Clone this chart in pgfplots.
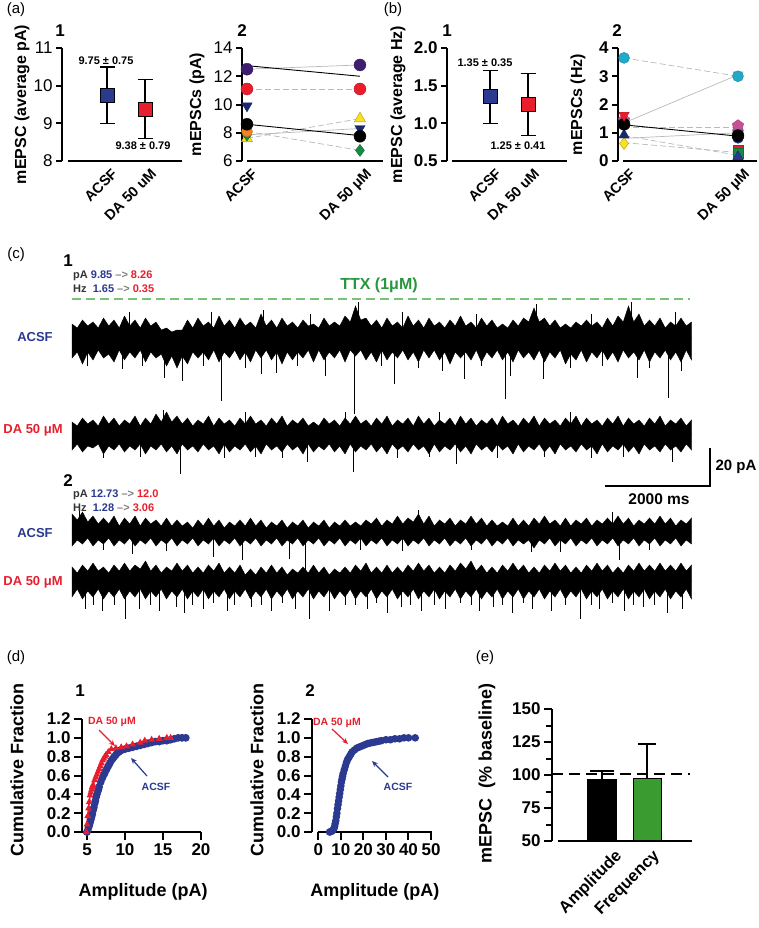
\documentclass[border=0pt]{standalone}
\usepackage{fontspec}
\setmainfont{Liberation Sans}
\usepackage{pgfplots}
\pgfplotsset{compat=1.18}
\usepackage{pgfplotstable}
\usetikzlibrary{arrows.meta}

\definecolor{acsf}{RGB}{43,57,144}
\definecolor{dared}{RGB}{232,30,45}
\definecolor{ttx}{RGB}{40,150,60}
\definecolor{ttxl}{RGB}{120,195,120}
\definecolor{purp}{RGB}{62,30,110}
\definecolor{orng}{RGB}{245,130,32}
\definecolor{ylw}{RGB}{250,225,30}
\definecolor{grn}{RGB}{20,140,70}
\definecolor{cyn}{RGB}{30,170,200}
\definecolor{pnk}{RGB}{200,80,150}
\definecolor{navy}{RGB}{25,40,110}
\definecolor{barg}{RGB}{58,155,48}

\newcommand{\fs}[1]{\fontsize{#1}{#1}\selectfont}

\pgfplotsset{
  every axis/.append style={/pgf/number format/assume math mode=true},
  panel/.style={scale only axis, clip=false, anchor=south west,
    axis x line=none, axis y line*=left,
    axis line style={line width=2.4pt,-},
    tick align=outside, major tick length=6pt,
    tick style={line width=2pt,black}, xtick=\empty,
    ylabel style={font=\bfseries\fs{16}, anchor=center},
    yticklabel style={font=\fs{17}}},
  trace/.style={scale only axis, hide axis, clip=false, anchor=west,
    width=619.5pt, height=80pt, xmin=0, xmax=11800, ymin=-20, ymax=20},
  env/.style={fill=black, draw=black, line width=0.4pt},
  gl/.style={gray!55, line width=0.7pt},
  gd/.style={gray!55, line width=0.7pt, dash pattern=on 6pt off 3pt},
}

% ---------------- trace envelopes (t in ms, current in pA) ----------------
\pgfplotstableread{
t up lo
0 7 -10
100 5 -7
200 9 -13
300 6 -7
400 8 -11
500 5 -6
600 10 -10
700 6 -8
800 9 -12
900 5 -6
1000 11 -11
1100 6 -7
1200 9 -10
1300 5 -6
1400 10 -12
1500 6 -7
1600 8 -10
1700 4 -8
1800 5 -14
1900 3 -9
2000 4 -15
2100 4 -9
2200 9 -13
2300 5 -7
2400 10 -10
2500 6 -7
2600 8 -11
2700 5 -6
2800 11 -12
2900 6 -7
3000 9 -10
3100 5 -6
3200 10 -11
3300 6 -7
3400 8 -12
3500 5 -6
3600 12 -10
3700 6 -6
3800 9 -11
3900 5 -7
4000 10 -13
4100 6 -7
4200 8 -11
4300 5 -7
4400 9 -10
4500 6 -6
4600 7 -12
4700 5 -6
4800 10 -11
4900 6 -7
5000 8 -10
5100 6 -6
5200 11 -12
5300 8 -6
5400 16 -9
5500 9 -6
5600 10 -11
5700 6 -7
5800 9 -12
5900 5 -6
6000 10 -11
6100 6 -7
6200 8 -10
6300 5 -6
6400 11 -11
6500 6 -7
6600 9 -12
6700 5 -6
6800 10 -10
6900 6 -6
7000 8 -11
7100 5 -7
7200 9 -13
7300 6 -7
7400 11 -10
7500 6 -7
7600 8 -11
7700 5 -6
7800 10 -12
7900 6 -7
8000 9 -10
8100 5 -6
8200 7 -11
8300 5 -7
8400 9 -12
8500 6 -6
8600 10 -10
8700 8 -7
8800 15 -11
8900 8 -6
9000 10 -12
9100 6 -7
9200 9 -10
9300 5 -6
9400 7 -13
9500 5 -8
9600 8 -11
9700 6 -6
9800 9 -12
9900 6 -7
10000 8 -10
10100 5 -6
10200 10 -11
10300 6 -7
10400 11 -12
10500 8 -6
10600 16 -10
10700 8 -7
10800 12 -11
10900 6 -6
11000 9 -12
11100 6 -7
11200 10 -10
11300 5 -6
11400 8 -11
11500 6 -7
11600 10 -12
11700 6 -6
11800 8 -11
}\trA
\pgfplotstableread{
t v
300 -14
970 -15.5
1100 13
1350 -14
1770 -20
2100 -21.5
2500 -14
2650 13
2840 -31.5
3300 -15
3600 -18
3650 14
3890 -17.5
4300 -14
4550 12
4820 -19
5390 -38
5450 18
5900 -14
6150 -23
6300 13
6600 -15
7050 -16.5
7470 -20.5
7700 12
7800 -14
8250 -30.5
8360 -19
8850 17
8990 -20.5
9500 -15
9900 12
10100 -14
10650 18
10780 -20
11000 -15
11370 -30
11500 13
11600 -16.5
}\spA
\pgfplotstableread{
t up lo
0 6 -8
100 4 -5
200 8 -9
300 5 -6
400 7 -7
500 4 -5
600 9 -10
700 5 -6
800 8 -8
900 4 -5
1000 7 -9
1100 5 -6
1200 9 -8
1300 4 -5
1400 8 -10
1500 5 -6
1600 10 -8
1700 6 -5
1800 11 -9
1900 6 -6
2000 9 -10
2100 5 -5
2200 8 -8
2300 4 -6
2400 7 -9
2500 5 -5
2600 9 -8
2700 4 -6
2800 8 -10
2900 5 -5
3000 7 -9
3100 4 -6
3200 8 -8
3300 5 -5
3400 9 -9
3500 5 -6
3600 7 -10
3700 4 -5
3800 8 -8
3900 5 -6
4000 9 -9
4100 4 -5
4200 7 -8
4300 5 -6
4400 8 -10
4500 4 -5
4600 6 -9
4700 4 -6
4800 8 -8
4900 5 -5
5000 7 -9
5100 4 -6
5200 8 -10
5300 5 -5
5400 9 -9
5500 5 -6
5600 7 -8
5700 4 -5
5800 8 -9
5900 5 -6
6000 9 -10
6100 4 -5
6200 7 -8
6300 5 -6
6400 8 -9
6500 4 -5
6600 9 -8
6700 5 -6
6800 8 -10
6900 4 -5
7000 7 -9
7100 5 -6
7200 8 -8
7300 4 -5
7400 9 -9
7500 5 -6
7600 8 -10
7700 4 -5
7800 7 -8
7900 5 -6
8000 8 -9
8100 4 -5
8200 9 -8
8300 5 -6
8400 7 -10
8500 4 -5
8600 8 -9
8700 5 -6
8800 9 -8
8900 4 -5
9000 8 -9
9100 5 -6
9200 7 -10
9300 4 -5
9400 8 -8
9500 5 -6
9600 9 -9
9700 4 -5
9800 8 -8
9900 5 -6
10000 7 -10
10100 4 -5
10200 8 -9
10300 5 -6
10400 9 -8
10500 4 -5
10600 8 -9
10700 5 -6
10800 7 -10
10900 4 -5
11000 8 -8
11100 5 -6
11200 9 -9
11300 4 -5
11400 7 -8
11500 5 -6
11600 8 -9
11700 4 -5
11800 7 -8
}\trB
\pgfplotstableread{
t v
600 -12
1300 -11.5
1750 12
2060 -20
2900 -12
3300 11
3500 -11.5
4000 -12
4480 -14
5200 11
5370 -19
6200 -12
6800 -11.5
7000 11
7330 -15
8100 -12
9000 -11.5
9500 11
9900 -12
10500 -11.5
11430 -14
}\spB
\pgfplotstableread{
t up lo
0 9 -7
100 6 -4
200 10 -6
300 5 -3
400 8 -7
500 4 -4
600 7 -6
700 4 -3
800 8 -7
900 3 -4
1000 7 -6
1100 4 -3
1200 8 -7
1300 3 -4
1400 7 -6
1500 4 -3
1600 6 -7
1700 3 -4
1800 7 -6
1900 3 -3
2000 6 -7
2100 3 -4
2200 5 -6
2300 2 -3
2400 6 -7
2500 3 -4
2600 7 -6
2700 3 -3
2800 6 -7
2900 2 -4
3000 5 -6
3100 3 -3
3200 6 -7
3300 3 -4
3400 7 -6
3500 3 -3
3600 6 -7
3700 2 -4
3800 5 -6
3900 3 -3
4000 6 -7
4100 2 -4
4200 5 -6
4300 3 -3
4400 6 -7
4500 2 -4
4600 5 -6
4700 3 -3
4800 6 -7
4900 2 -4
5000 5 -6
5100 3 -3
5200 6 -7
5300 3 -4
5400 5 -6
5500 3 -3
5600 6 -7
5700 4 -4
5800 7 -6
5900 3 -3
6000 6 -7
6100 4 -4
6200 8 -6
6300 4 -3
6400 7 -7
6500 5 -4
6600 9 -6
6700 4 -3
6800 8 -7
6900 3 -4
7000 6 -6
7100 4 -3
7200 7 -7
7300 3 -4
7400 6 -6
7500 4 -3
7600 8 -7
7700 4 -4
7800 7 -6
7900 3 -3
8000 6 -7
8100 3 -4
8200 5 -6
8300 3 -3
8400 7 -7
8500 3 -4
8600 6 -6
8700 3 -4
8800 7 -8
8900 4 -4
9000 8 -6
9100 4 -3
9200 6 -7
9300 3 -4
9400 7 -6
9500 3 -3
9600 6 -7
9700 4 -4
9800 7 -6
9900 3 -3
10000 6 -7
10100 4 -4
10200 7 -6
10300 4 -3
10400 8 -7
10500 4 -4
10600 7 -6
10700 3 -3
10800 6 -7
10900 4 -4
11000 7 -6
11100 4 -3
11200 8 -7
11300 4 -4
11400 7 -6
11500 3 -3
11600 6 -7
11700 4 -4
11800 7 -6
}\trC
\pgfplotstableread{
t v
150 12
600 -9
1160 -11
1800 -9.5
2690 -12.5
3240 -14
4150 -13.5
4440 -19
5500 -9
6300 -9.5
6600 11
7600 -9
8760 -10
9300 -10
10300 10
10420 -14
11000 -9
}\spC
\pgfplotstableread{
t up lo
0 7 -8
100 4 -4
200 8 -9
300 5 -5
400 9 -8
500 5 -4
600 7 -9
700 4 -5
800 8 -8
900 5 -4
1000 9 -9
1100 5 -5
1200 8 -8
1300 6 -4
1400 10 -9
1500 5 -5
1600 8 -8
1700 4 -4
1800 7 -9
1900 5 -5
2000 9 -8
2100 5 -4
2200 8 -9
2300 4 -5
2400 7 -8
2500 4 -4
2600 8 -9
2700 5 -5
2800 9 -8
2900 4 -4
3000 7 -9
3100 4 -5
3200 8 -8
3300 3 -4
3400 6 -9
3500 3 -5
3600 7 -8
3700 4 -4
3800 8 -9
3900 4 -5
4000 7 -8
4100 3 -4
4200 6 -9
4300 4 -5
4400 7 -8
4500 4 -4
4600 8 -9
4700 4 -5
4800 7 -8
4900 3 -4
5000 6 -9
5100 4 -5
5200 7 -8
5300 4 -4
5400 8 -9
5500 5 -5
5600 9 -8
5700 4 -4
5800 7 -9
5900 4 -5
6000 8 -8
6100 4 -4
6200 7 -9
6300 4 -5
6400 8 -8
6500 5 -4
6600 9 -9
6700 5 -5
6800 8 -8
6900 4 -4
7000 7 -9
7100 4 -5
7200 8 -8
7300 5 -4
7400 9 -9
7500 6 -5
7600 10 -8
7700 5 -4
7800 8 -9
7900 4 -5
8000 7 -8
8100 4 -4
8200 8 -9
8300 5 -5
8400 9 -8
8500 5 -4
8600 8 -9
8700 4 -5
8800 7 -8
8900 4 -4
9000 8 -9
9100 5 -5
9200 9 -8
9300 5 -4
9400 8 -9
9500 4 -5
9600 7 -8
9700 4 -4
9800 8 -9
9900 5 -5
10000 9 -8
10100 5 -4
10200 8 -9
10300 4 -5
10400 7 -8
10500 4 -4
10600 8 -9
10700 5 -5
10800 9 -8
10900 5 -4
11000 8 -9
11100 5 -5
11200 9 -8
11300 5 -4
11400 8 -9
11500 5 -5
11600 9 -8
11700 5 -4
11800 8 -9
}\trD
\pgfplotstableread{
t v
248 -14
400 -12
572 -15
800 -12
1010 -19
1295 -14
1500 -12
1676 -15
1981 -13
2134 -16
2300 -12
2496 -14
2700 -11
2953 -15
3100 -12
3410 -13
3600 -12
3791 -15
4000 -11
4248 -14
4515 -19
4896 -15
5200 -12
5400 -12
5619 -14
5800 -11
6000 -16
6267 -13
6450 -12
6648 -15
6900 -12
7105 -14
7400 -11
7600 -12
7753 -15
8019 -13
8200 -12
8382 -16
8600 -11
8763 -14
9125 -15
9400 -12
9677 -19
9900 -12
10039 -14
10300 -11
10515 -15
10700 -12
10877 -13
11100 -12
11334 -16
11620 -14
}\spD

\begin{document}
\begin{tikzpicture}
\useasboundingbox (0pt,0pt) rectangle (758pt,-928pt);

% ================= (a)1 =================
\begin{axis}[panel, at={(62pt,-161pt)}, width=120pt, height=113pt,
  xmin=-0.184, xmax=2.97, ymin=8, ymax=11, ytick={8,9,10,11},
  ylabel={mEPSC (average pA)},
  ylabel style={at={(axis description cs:-0.333,0.5)}}]
\addplot[only marks, mark=square*, mark size=7pt,
  mark options={fill=acsf, draw=black, line width=1pt},
  error bars/.cd, y dir=both, y explicit,
  error bar style={line width=1.4pt, black},
  error mark options={rotate=90, mark size=7.5pt, line width=1.4pt, black}]
  coordinates {(1,9.75) +- (0,0.75)};
\addplot[only marks, mark=square*, mark size=7pt,
  mark options={fill=dared, draw=black, line width=1pt},
  error bars/.cd, y dir=both, y explicit,
  error bar style={line width=1.4pt, black},
  error mark options={rotate=90, mark size=7.5pt, line width=1.4pt, black}]
  coordinates {(2,9.38) +- (0,0.79)};
\end{axis}

% ================= (a)2 =================
\begin{axis}[panel, at={(242pt,-161pt)}, width=141pt, height=113pt,
  xmin=0.956, xmax=2.204, ymin=6, ymax=14, ytick={6,8,10,12,14},
  ylabel={mEPSCs (pA)},
  ylabel style={at={(axis description cs:-0.319,0.5)}}]
\addplot[gl] coordinates {(1,12.5) (2,12.8)};
\addplot[gd] coordinates {(1,11.1) (2,11.1)};
\addplot[gd] coordinates {(1,7.6) (2,9.0)};
\addplot[gd] coordinates {(1,8.1) (2,6.75)};
\addplot[gl] coordinates {(1,7.85) (2,8.3)};
\addplot[black, line width=0.9pt] coordinates {(1,12.75) (2,12.0)};
\addplot[black, line width=0.9pt] coordinates {(1,8.6) (2,7.8)};
\addplot[only marks, mark=triangle*, mark size=6.5pt, mark options={fill=ylw, draw=ylw!70!black, line width=0.4pt}] coordinates {(1,7.6) (2,9.0)};
\addplot[only marks, mark=diamond*, mark size=6pt, mark options={fill=grn, draw=grn!70!black, line width=0.4pt}] coordinates {(1,7.85) (2,6.75)};
\addplot[only marks, mark=*, mark size=5.5pt, mark options={fill=orng, draw=orng!80!black, line width=0.4pt}] coordinates {(1,8.1)};
\addplot[only marks, mark=triangle*, mark size=6pt, mark options={rotate=180, fill=navy, draw=navy, line width=0.4pt}] coordinates {(1,9.9) (2,8.3)};
\addplot[only marks, mark=*, mark size=6pt, mark options={fill=black, draw=black}] coordinates {(1,8.6) (2,7.75)};
\addplot[only marks, mark=*, mark size=6pt, mark options={fill=dared, draw=dared!80!black, line width=0.4pt}] coordinates {(1,11.1) (2,11.1)};
\addplot[only marks, mark=*, mark size=6pt, mark options={fill=purp, draw=purp, line width=0.4pt}] coordinates {(1,12.5) (2,12.8)};
\end{axis}

% ================= (b)1 =================
\begin{axis}[panel, at={(447pt,-161pt)}, width=120pt, height=113pt,
  xmin=-0.132, xmax=3.026, ymin=0.5, ymax=2.0, ytick={0.5,1.0,1.5,2.0},
  yticklabel style={font=\bfseries\fs{17}, /pgf/number format/.cd, fixed, fixed zerofill, precision=1},
  ylabel={mEPSC (average Hz)},
  ylabel style={at={(axis description cs:-0.408,0.5)}}]
\addplot[only marks, mark=square*, mark size=7pt,
  mark options={fill=acsf, draw=black, line width=1pt},
  error bars/.cd, y dir=both, y explicit,
  error bar style={line width=1.4pt, black},
  error mark options={rotate=90, mark size=7.5pt, line width=1.4pt, black}]
  coordinates {(1,1.35) +- (0,0.35)};
\addplot[only marks, mark=square*, mark size=7pt,
  mark options={fill=dared, draw=black, line width=1pt},
  error bars/.cd, y dir=both, y explicit,
  error bar style={line width=1.4pt, black},
  error mark options={rotate=90, mark size=7.5pt, line width=1.4pt, black}]
  coordinates {(2,1.25) +- (0,0.41)};
\end{axis}

% ================= (b)2 =================
\begin{axis}[panel, at={(618pt,-161pt)}, width=139pt, height=113pt,
  xmin=0.947, xmax=2.167, ymin=0, ymax=4, ytick={0,1,2,3,4},
  yticklabel style={font=\bfseries\fs{17}},
  ylabel={mEPSCs (Hz)},
  ylabel style={at={(axis description cs:-0.288,0.5)}}]
\addplot[gd] coordinates {(1,3.65) (2,3.0)};
\addplot[gl] coordinates {(1,1.35) (2,3.05)};
\addplot[gd] coordinates {(1,1.2) (2,1.2)};
\addplot[gl] coordinates {(1,0.8) (2,1.0)};
\addplot[gd] coordinates {(1,0.9) (2,0.2)};
\addplot[gd] coordinates {(1,0.65) (2,0.3)};
\addplot[black, line width=0.9pt] coordinates {(1,1.28) (2,0.88)};
\addplot[only marks, mark=diamond*, mark size=6pt, mark options={fill=ylw, draw=ylw!70!black, line width=0.4pt}] coordinates {(1,0.62)};
\addplot[only marks, mark=triangle*, mark size=6pt, mark options={fill=navy, draw=navy}] coordinates {(1,0.92)};
\addplot[only marks, mark=square*, mark size=5pt, mark options={fill=dared, draw=dared!80!black}] coordinates {(2,0.38)};
\addplot[only marks, mark=square*, mark size=5pt, mark options={fill=grn, draw=grn!80!black}] coordinates {(2,0.28)};
\addplot[only marks, mark=triangle*, mark size=6pt, mark options={fill=acsf, draw=navy}] coordinates {(2,0.15)};
\addplot[only marks, mark=*, mark size=5.5pt, mark options={fill=navy, draw=navy}] coordinates {(2,0.82)};
\addplot[only marks, mark=*, mark size=5.5pt, mark options={fill=purp!70, draw=purp!70}] coordinates {(2,1.08)};
\addplot[only marks, mark=pentagon*, mark size=6pt, mark options={fill=pnk, draw=pnk!80!black}] coordinates {(1,1.45) (2,1.25)};
\addplot[only marks, mark=*, mark size=6pt, mark options={fill=black, draw=black}] coordinates {(1,1.3) (2,0.9)};
\addplot[only marks, mark=triangle*, mark size=6pt, mark options={rotate=180, fill=dared, draw=dared!80!black}] coordinates {(1,1.62)};
\addplot[only marks, mark=triangle*, mark size=6pt, mark options={rotate=180, fill=gray!45, draw=gray!60}] coordinates {(2,3.05)};
\addplot[only marks, mark=*, mark size=5.5pt, mark options={fill=cyn, draw=cyn!80!black}] coordinates {(1,3.65) (2,3.0)};
\end{axis}

% ---- x axis lines and rotated category labels for (a),(b)
\draw[line width=2.4pt] (68pt,-161pt) -- (182pt,-161pt);
\draw[line width=2.4pt] (247pt,-161pt) -- (383pt,-161pt);
\draw[line width=2.4pt] (452pt,-161pt) -- (567pt,-161pt);
\draw[line width=2.4pt] (623pt,-161pt) -- (757pt,-161pt);
\begin{scope}[every node/.style={rotate=45, anchor=north east, font=\bfseries\fs{14.5}, inner sep=1pt}]
\node at (111pt,-166pt) {ACSF};
\node at (150pt,-166pt) {DA 50 uM};
\node at (251pt,-166pt) {ACSF};
\node at (365pt,-166pt) {DA 50 μM};
\node at (495pt,-166pt) {ACSF};
\node at (533pt,-166pt) {DA 50 uM};
\node at (629pt,-166pt) {ACSF};
\node at (743pt,-166pt) {DA 50 μM};
\end{scope}
\begin{scope}[every node/.style={font=\bfseries\fs{11}}]
\node at (106pt,-61pt) {9.75 ± 0.75};
\node at (143pt,-146pt) {9.38 ± 0.79};
\node at (485pt,-63pt) {1.35 ± 0.35};
\node at (518pt,-146pt) {1.25 ± 0.41};
\end{scope}
\node[font=\fs{15}] at (16pt,-10pt) {(a)};
\node[font=\fs{15}] at (393pt,-10pt) {(b)};
\begin{scope}[every node/.style={font=\bfseries\fs{17}}]
\node at (60pt,-31pt) {1};
\node at (242pt,-31pt) {2};
\node at (447pt,-31pt) {1};
\node at (617pt,-31pt) {2};
\end{scope}

% ================= (c) traces =================
\begin{axis}[trace, at={(72pt,-338pt)}]
\addplot[env] table[x=t,y=up]{\trA} \closedcycle;
\addplot[env] table[x=t,y=lo]{\trA} \closedcycle;
\addplot[ycomb, black, line width=1pt] table[x=t,y=v]{\spA};
\end{axis}
\begin{axis}[trace, at={(72pt,-434pt)}]
\addplot[env] table[x=t,y=up]{\trB} \closedcycle;
\addplot[env] table[x=t,y=lo]{\trB} \closedcycle;
\addplot[ycomb, black, line width=1pt] table[x=t,y=v]{\spB};
% scale bar: 2000 ms x 20 pA
\addplot[black, line width=2pt, line join=miter] coordinates {(10150,-26) (12150,-26) (12150,-7)};
\end{axis}
\begin{axis}[trace, at={(72pt,-532pt)}]
\addplot[env] table[x=t,y=up]{\trC} \closedcycle;
\addplot[env] table[x=t,y=lo]{\trC} \closedcycle;
\addplot[ycomb, black, line width=1pt] table[x=t,y=v]{\spC};
\end{axis}
\begin{axis}[trace, at={(72pt,-581pt)}]
\addplot[env] table[x=t,y=up]{\trD} \closedcycle;
\addplot[env] table[x=t,y=lo]{\trD} \closedcycle;
\addplot[ycomb, black, line width=1pt] table[x=t,y=v]{\spD};
\end{axis}

\node[font=\fs{15}] at (16pt,-255pt) {(c)};
\node[font=\bfseries\fs{17}] at (68pt,-261pt) {1};
\node[font=\bfseries\fs{17}] at (68pt,-481pt) {2};
\begin{scope}[every node/.style={anchor=west, font=\bfseries\fs{11}, inner sep=0pt, text=black!80}]
\node at (73pt,-276pt) {pA {\color{acsf}9.85} {\color{gray}–>} {\color{dared}8.26}};
\node at (73pt,-289pt) {Hz\ \ {\color{acsf}1.65} {\color{gray}–>} {\color{dared}0.35}};
\node at (73pt,-495pt) {pA {\color{acsf}12.73} {\color{gray}–>} {\color{dared}12.0}};
\node at (73pt,-508pt) {Hz\ \ {\color{acsf}1.28} {\color{gray}–>} {\color{dared}3.06}};
\end{scope}
\node[font=\bfseries\fs{16}, text=ttx] at (379pt,-285pt) {TTX (1μM)};
\draw[ttxl, line width=1.4pt, dash pattern=on 9pt off 5pt] (72pt,-299pt) -- (690pt,-299pt);
\begin{scope}[every node/.style={font=\bfseries\fs{13}}]
\node[text=acsf] at (35pt,-337pt) {ACSF};
\node[text=dared] at (33pt,-430pt) {DA 50 μM};
\node[text=acsf] at (35pt,-533pt) {ACSF};
\node[text=dared] at (33pt,-582pt) {DA 50 μM};
\end{scope}
\node[anchor=west, font=\bfseries\fs{15}] at (712pt,-467pt) {20 pA};
\node[font=\bfseries\fs{15.5}] at (659pt,-499pt) {2000 ms};

% ================= (d)1 =================
\begin{axis}[scale only axis, clip=false, anchor=south west,
  at={(82pt,-832pt)}, width=119pt, height=113pt,
  xmin=4.342, xmax=20, ymin=0, ymax=1.2,
  axis lines*=left, axis line style={line width=2.4pt,-},
  tick align=outside, major tick length=8pt, tick style={line width=2pt,black},
  xtick={5,10,15,20}, ytick={0,0.2,0.4,0.6,0.8,1.0,1.2},
  ticklabel style={font=\bfseries\fs{17}},
  yticklabel style={/pgf/number format/.cd, fixed, fixed zerofill, precision=1},
  xlabel={Amplitude (pA)}, ylabel={Cumulative Fraction},
  label style={font=\bfseries\fs{18}, anchor=center},
  xlabel style={at={(axis description cs:0.513,-0.531)}},
  ylabel style={at={(axis description cs:-0.546,0.549)}}]
\addplot[acsf, line width=2.8pt, mark=*, mark size=2.4pt] coordinates {
(5.0,0.0) (5.1,0.02) (5.2,0.05) (5.3,0.07) (5.4,0.1) (5.5,0.13) (5.6,0.16) (5.7,0.19)
(5.8,0.23) (5.9,0.26) (6.0,0.3) (6.1,0.33) (6.2,0.37) (6.3,0.4) (6.4,0.43) (6.5,0.45)
(6.6,0.48) (6.8,0.53) (7.0,0.57) (7.15,0.6) (7.3,0.62) (7.45,0.65) (7.6,0.67) (7.8,0.7)
(8.0,0.73) (8.2,0.76) (8.4,0.78) (8.6,0.8) (8.8,0.82) (9.0,0.84) (9.2,0.85) (9.6,0.87)
(10.0,0.88) (10.5,0.89) (11.0,0.9) (11.5,0.91) (12,0.92) (12.5,0.93) (13,0.94) (13.5,0.95)
(14,0.96) (14.5,0.96) (15,0.97) (15.5,0.97) (16,0.98) (16.5,0.99) (17,1.0) (17.5,1.0) (18,1.0)};
\addplot[dared, line width=1.6pt, mark=triangle*, mark size=2.4pt] coordinates {
(4.9,0.0) (5.0,0.08) (5.1,0.17) (5.2,0.25) (5.3,0.32) (5.4,0.39) (5.5,0.42) (5.6,0.45)
(5.7,0.48) (5.8,0.5) (6.0,0.55) (6.15,0.58) (6.3,0.61) (6.45,0.64) (6.6,0.67) (6.75,0.7)
(6.9,0.73) (7.05,0.76) (7.2,0.78) (7.35,0.8) (7.5,0.82) (7.8,0.85) (8.2,0.88)
(8.8,0.89) (9.5,0.9) (10.2,0.91) (11,0.93) (12,0.95) (12.6,0.97) (13.5,0.98) (14.5,0.99)
(15.5,1.0) (16,1.0)};
\addplot[black, line width=0.6pt] coordinates {(8.0,0.87) (9,0.89) (10,0.91) (11,0.93) (12,0.95) (13,0.97) (14,0.98) (15,0.99)};
\end{axis}

% ================= (d)2 =================
\begin{axis}[scale only axis, clip=false, anchor=south west,
  at={(312pt,-832pt)}, width=119pt, height=113pt,
  xmin=-2.8, xmax=50, ymin=0, ymax=1.2,
  axis lines*=left, axis line style={line width=2.4pt,-},
  x axis line style={draw=none},
  tick align=outside, major tick length=8pt, tick style={line width=2pt,black},
  xtick={0,10,20,30,40,50}, ytick={0,0.2,0.4,0.6,0.8,1.0,1.2},
  ticklabel style={font=\bfseries\fs{17}},
  yticklabel style={/pgf/number format/.cd, fixed, fixed zerofill, precision=1},
  xlabel={Amplitude (pA)}, ylabel={Cumulative Fraction},
  label style={font=\bfseries\fs{18}, anchor=center},
  xlabel style={at={(axis description cs:0.529,-0.531)}},
  ylabel style={at={(axis description cs:-0.462,0.549)}}]
\draw[line width=2.4pt] (axis cs:-0.3,0) -- (axis cs:50.3,0);
\addplot[acsf, line width=3pt, mark=*, mark size=2.2pt] coordinates {
(5,0.0) (5.5,0.003) (6,0.01) (6.5,0.02) (7,0.04) (7.25,0.06) (7.5,0.09) (7.75,0.12)
(8,0.16) (8.25,0.2) (8.5,0.25) (8.75,0.29) (9,0.33) (9.25,0.37) (9.5,0.41) (9.75,0.45)
(10,0.49) (10.25,0.53) (10.5,0.56) (10.75,0.59) (11,0.62) (11.5,0.66) (12,0.7) (12.5,0.74)
(13,0.77) (13.5,0.79) (14,0.81) (14.5,0.83) (15,0.85) (16,0.87) (17,0.89) (18,0.9) (19,0.91)
(20,0.92) (21,0.93) (22,0.94) (23,0.945) (24,0.95) (25,0.955) (26,0.96) (27,0.965) (28,0.97)
(30,0.98) (32,0.98) (34,0.99) (36,0.99) (38,1.0) (40,1.0) (43,1.0)};
\addplot[dared, line width=1.2pt] coordinates {
(5,0.0) (6,0.02) (7,0.07) (7.5,0.13) (8,0.21) (8.5,0.3) (9,0.38) (9.5,0.46) (10,0.53)
(10.5,0.6) (11,0.65) (12,0.73) (13,0.79) (14,0.83) (15,0.86) (16,0.88) (17,0.9) (18,0.91)
(20,0.93) (22,0.95) (25,0.97) (28,0.98) (32,0.99) (36,1.0)};
\end{axis}

\node[font=\fs{15}] at (16pt,-658pt) {(d)};
\node[font=\bfseries\fs{17}] at (80pt,-691pt) {1};
\node[font=\bfseries\fs{17}] at (310pt,-691pt) {2};
\begin{scope}[every node/.style={font=\bfseries\fs{10.5}}]
\node[text=dared] at (112pt,-722pt) {DA 50 μM};
\node[text=acsf] at (156pt,-787pt) {ACSF};
\node[text=dared] at (337pt,-723pt) {DA 50 μM};
\node[text=acsf] at (398pt,-787pt) {ACSF};
\end{scope}
\draw[-{Stealth[length=6pt,width=5pt]}, dared, line width=1.2pt] (99pt,-730pt) -- (115pt,-746pt);
\draw[-{Stealth[length=6pt,width=5pt]}, acsf, line width=1.2pt] (147pt,-776pt) -- (131pt,-758pt);
\draw[-{Stealth[length=6pt,width=5pt]}, dared, line width=1.2pt] (332pt,-729pt) -- (348pt,-744pt);
\draw[-{Stealth[length=6pt,width=5pt]}, acsf, line width=1.2pt] (388pt,-777pt) -- (372pt,-761pt);

% ================= (e) =================
\begin{axis}[panel, clip=true, at={(552pt,-841pt)}, width=140pt, height=132pt,
  xmin=-0.111, xmax=3.0, ymin=50, ymax=150,
  ytick={50,75,100,125,150}, minor ytick={62.5,87.5,112.5,137.5},
  major tick length=8pt, minor tick length=6pt,
  yticklabel style={font=\bfseries\fs{17}},
  ylabel={mEPSC\ \ (\% baseline)},
  ylabel style={font=\bfseries\fs{18}, at={(axis description cs:-0.464,0.508)}}]
\addplot[ybar, bar width=29pt, bar shift=0pt, fill=black, draw=black,
  error bars/.cd, y dir=plus, y explicit,
  error bar style={line width=1.5pt, black},
  error mark options={rotate=90, mark size=12pt, line width=1.5pt, black}]
  coordinates {(1,97) +- (0,6)};
\addplot[ybar, bar width=28pt, bar shift=0pt, fill=barg, draw=black, line width=1pt,
  error bars/.cd, y dir=plus, y explicit,
  error bar style={line width=1.5pt, black},
  error mark options={rotate=90, mark size=9pt, line width=1.5pt, black}]
  coordinates {(2,97) +- (0,26.5)};
\addplot[black, line width=1.8pt, dash pattern=on 11pt off 6pt] coordinates {(-0.111,100.8) (2.96,100.8)};
\end{axis}
\draw[line width=2.4pt] (558pt,-841pt) -- (692pt,-841pt);
\node[font=\fs{15}] at (485pt,-658pt) {(e)};
\begin{scope}[every node/.style={rotate=45, anchor=north east, font=\bfseries\fs{16.5}, inner sep=1pt}]
\node at (614pt,-847pt) {Amplitude};
\node at (652pt,-847pt) {Frequency};
\end{scope}

\end{tikzpicture}
\end{document}
